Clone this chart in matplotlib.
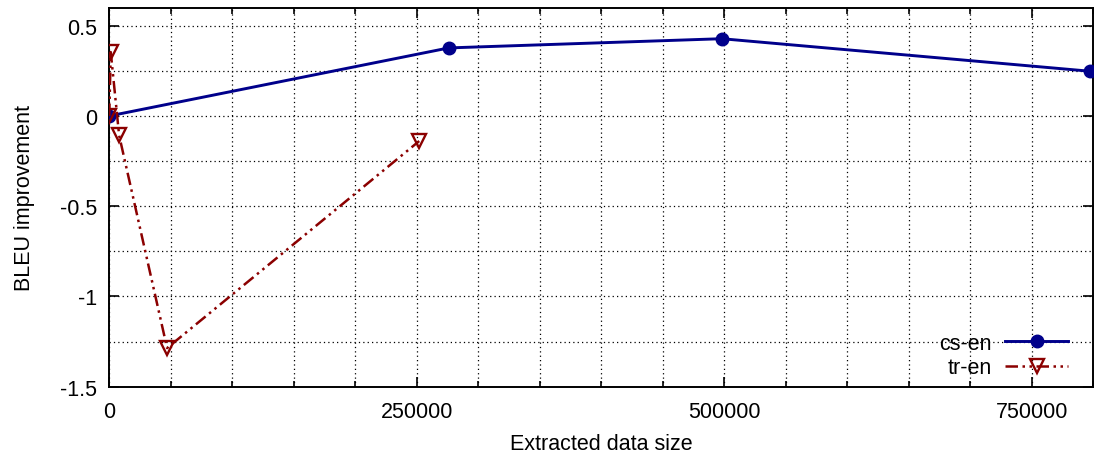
import numpy as np
import matplotlib.pyplot as plt
from matplotlib.ticker import MultipleLocator, FuncFormatter

plt.rcParams['font.family'] = ['Liberation Sans', 'DejaVu Sans']

# data
csX = [0, 276000, 498000, 797000]
csY = [0.0, 0.377, 0.428, 0.248]
trX = [0, 1200, 8000, 47000, 252000]
trY = [0.0, 0.354, -0.107, -1.286, -0.139]

xTicks = [0, 250000, 500000, 750000]
yTicks = [-1.5, -1, -0.5, 0, 0.5]

fs = 15.5

fig = plt.figure(figsize=(10.96, 4.56), dpi=100)
ax = fig.add_axes([0.0997, 0.1498, 0.8978, 0.8312])

ax.plot(csX, csY, '-', color='#00008b', lw=2.1, marker='o', markersize=9,
        label='cs-en', zorder=3)
ax.plot(trX, trY, color='#8b0000', lw=1.8, linestyle=(0, (5, 1.8, 1, 1.8, 1, 1.8)),
        marker='v', markersize=10, markerfacecolor='none', markeredgewidth=1.7,
        label='tr-en', zorder=3)

ax.set_xlim(0, 800000)
ax.set_ylim(-1.5, 0.6)
ax.set_xticks(xTicks)
ax.set_yticks(yTicks)
ax.xaxis.set_minor_locator(MultipleLocator(50000))
ax.yaxis.set_minor_locator(MultipleLocator(0.25))
ax.xaxis.set_major_formatter(FuncFormatter(lambda v, p: '%d' % v))
ax.yaxis.set_major_formatter(FuncFormatter(lambda v, p: '%g' % v))

ax.tick_params(which='both', direction='in', top=True, right=True,
               labelsize=fs, width=1.2)
ax.tick_params(axis='x', which='major', length=7, pad=10)
ax.tick_params(axis='y', which='major', length=7, pad=9)
ax.tick_params(axis='x', which='minor', length=4)
ax.tick_params(axis='y', which='minor', length=0)
ax.grid(True, which='both', linestyle=(0, (1, 2.5)), color='black', lw=0.9)
for s in ax.spines.values():
    s.set_linewidth(1.4)

ax.set_xlabel('Extracted data size', fontsize=fs, labelpad=8)
ax.set_ylabel('BLEU improvement', fontsize=fs, labelpad=18)

leg = ax.legend(loc='lower right', bbox_to_anchor=(0.983, 0.0),
                borderaxespad=0, markerfirst=False, frameon=False,
                fontsize=fs, handlelength=2.9, handletextpad=0.65,
                labelspacing=0.15)

fig.savefig('out.png', dpi=100)
